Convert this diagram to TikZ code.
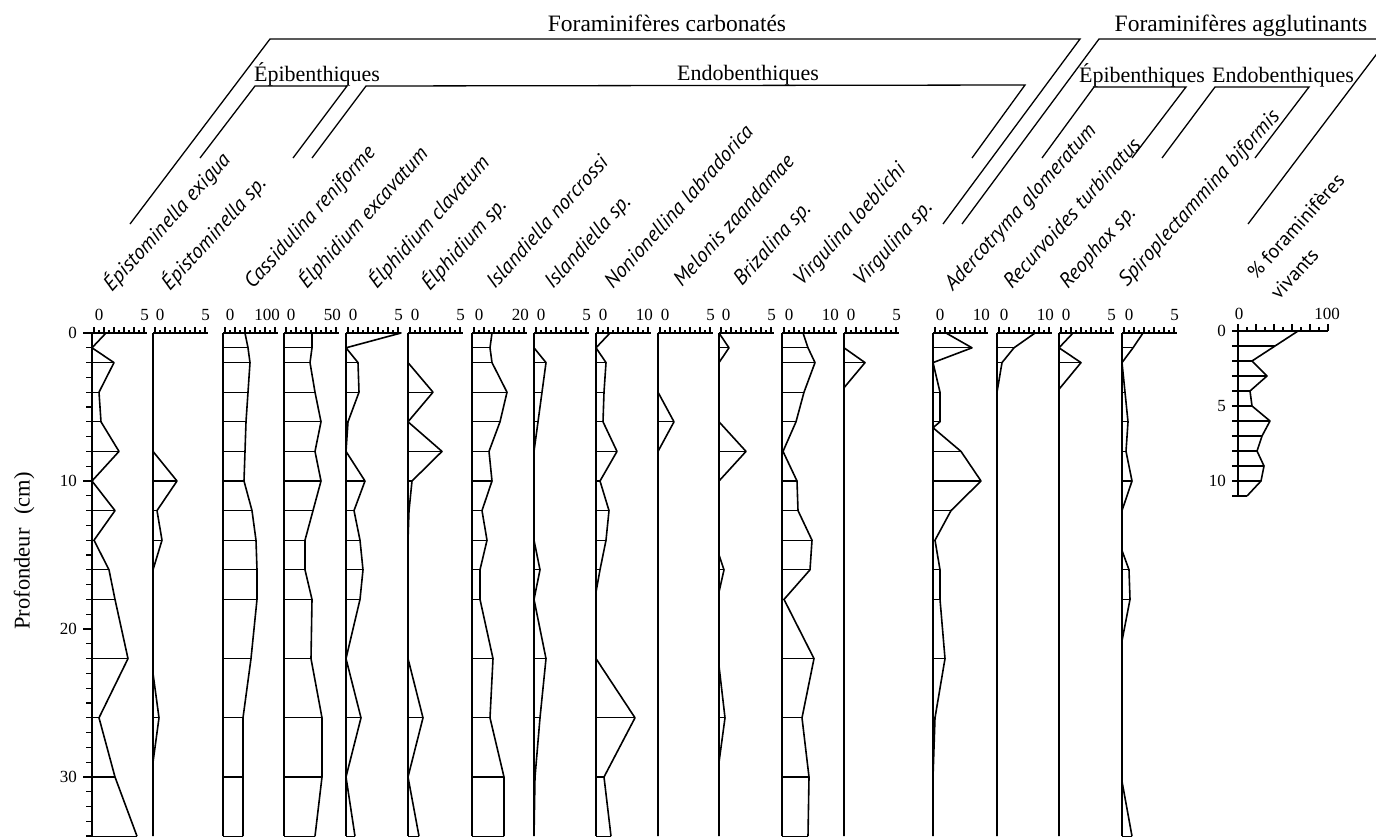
\documentclass[tikz,border=0pt]{standalone}
\usepackage{fontspec}
\setmainfont{Liberation Serif}
\newfontfamily\spfont{PT Sans}
\newcommand\drawprof[2]{%
  \draw[zl] (#1,333) -- (#1,836);
  \foreach \d/\v in {#2} {\draw[hl] (#1,{333+14.8*\d}) -- ++(\v,0);}
  \draw[cv] (#1,333) \foreach \d/\v in {#2} { -- ({#1+\v},{333+14.8*\d}) };
}
\newcommand\drawscale[2]{%
  \draw[ax] (#1,333) -- ++(55,0);
  \foreach \t in {2,12,...,52} {\draw[ax] ({#1+\t},333) -- ++(0,-6);}
  \foreach \t in {7,17,...,47} {\draw[ax] ({#1+\t},333) -- ++(0,-3.5);}
  \node[num] at ({#1+7},315) {0};
  \node[num,anchor=east] at ({#1+57},315) {#2};
}
\begin{document}
\begin{tikzpicture}[x=1pt,y=-1pt,
  cv/.style={line width=1.6pt,line join=round},
  hl/.style={line width=1.1pt},
  zl/.style={line width=1.5pt},
  ax/.style={line width=1.1pt},
  brk/.style={line width=1.3pt},
  sp/.style={font=\spfont\itshape\fontsize{21}{21}\selectfont,rotate=48,anchor=base west,inner sep=0pt},
  spu/.style={font=\spfont\fontsize{20}{20}\selectfont,rotate=48,anchor=base west,inner sep=0pt},
  hd/.style={font=\fontsize{23.5}{23.5}\selectfont,anchor=base,inner sep=0pt},
  sh/.style={font=\fontsize{22}{22}\selectfont,anchor=base,inner sep=0pt},
  num/.style={font=\fontsize{17}{17}\selectfont,inner sep=0pt}]
\useasboundingbox (0,0) rectangle (1376,838);
\clip (0,0) rectangle (1376,838);

% ---- header brackets
\draw[brk] (130,224) -- (270,39) -- (1080,39) -- (943,224);
\draw[brk] (962,224) -- (1099,39) -- (1388,39) -- (1248,224);
\draw[brk] (200,158) -- (255,86) -- (347,86) -- (293,158);
\draw[brk] (312,158) -- (366,86) -- (1025,85) -- (972,158);
\draw[brk] (1042,158) -- (1094,87) -- (1186,87) -- (1132,158);
\draw[brk] (1162,158) -- (1215,87) -- (1309,87) -- (1255,158);

\node[hd] (hcarb) at (667,31) {Foraminifères carbonatés};
\node[hd] (hagg) at (1241,31) {Foraminifères agglutinants};
\node[sh] (hepi1) at (317,81) {Épibenthiques};
\node[sh] (hendo1) at (748,80) {Endobenthiques};
\node[sh] (hepi2) at (1142,82) {Épibenthiques};
\node[sh] (hendo2) at (1283,82) {Endobenthiques};

% ---- species labels
\node[sp] (s1) at (112,293) {Épistominella exigua};
\node[sp] (s2) at (170,292) {Épistominella sp.};
\node[sp] (s3) at (253,290) {Cassidulina reniforme};
\node[sp] (s4) at (307,290) {Élphidium excavatum};
\node[sp] (s5) at (377,290) {Élphidium clavatum};
\node[sp] (s6) at (430,292) {Élphidium sp.};
\node[sp] (s7) at (495,290) {Islandiella norcrossi};
\node[sp] (s8) at (553,290) {Islandiella sp.};
\node[sp] (s9) at (613,290) {Nonionellina labradorica};
\node[sp] (s10) at (682,288) {Melonis zaandamae};
\node[sp] (s11) at (742,287) {Brizalina sp.};
\node[sp] (s12) at (802,287) {Virgulina loeblichi};
\node[sp] (s13) at (862,287) {Virgulina sp.};
\node[sp] (s14) at (953,292) {Adercotryma glomeratum};
\node[sp] (s15) at (1012,290) {Recurvoides turbinatus};
\node[sp] (s16) at (1068,290) {Reophax sp.};
\node[sp] (s17) at (1127,288) {Spiroplectammina biformis};
\node[spu] (s18a) at (1256,281) {\% foraminifères};
\node[spu] (s18b) at (1279,301) {vivants};

% ---- depth axis
\node[font=\fontsize{22.5}{22.5}\selectfont,rotate=90,inner sep=0pt] (ylab) at (24,551) {Profondeur\hspace{0.6em}(cm)};
\draw[ax] (85,333) -- (92,333);
\foreach \d in {0,...,34} {\draw[ax] (86,{333+14.8*\d}) -- (92,{333+14.8*\d});}
\foreach \d in {0,10,20,30} {\draw[ax] (83,{333+14.8*\d}) -- (92,{333+14.8*\d});
  \node[num,anchor=east] (dl\d) at (77,{333+14.8*\d}) {\d};}
\draw[hl] (86,836) -- (92,836);

% ---- scales
\drawscale{92}{5}
\drawscale{153}{5}
\drawscale{223}{100}
\drawscale{284}{50}
\drawscale{346}{5}
\drawscale{408}{5}
\drawscale{472}{20}
\drawscale{534}{5}
\drawscale{596}{10}
\drawscale{658}{5}
\drawscale{719}{5}
\drawscale{782}{10}
\drawscale{844}{5}
\drawscale{933}{10}
\drawscale{997}{10}
\drawscale{1059}{5}
\drawscale{1122}{5}

% ---- profiles
\drawprof{92}{0/14,1/0,2/22,4/7,6/9,8/27,10/0,12/23,14/2,16/17,18/23,22/36,26/7,30/23,34/45}
\drawprof{153}{0/0,8/0,10/24,12/4,14/9,16/0,23/0,26/6,29/0,34/0}
\drawprof{223}{0/22,1/25,2/27,4/25,6/23,8/22,10/21,12/29,14/33,16/34,18/34,22/28,26/20,30/20,34/20}
\drawprof{284}{0/28,1/28,2/26,4/31,6/37,8/31,10/37,12/29,14/21,16/21,18/28,22/27,26/38,30/38,34/31}
\drawprof{346}{0/55,1/0,2/12,4/13,6/2,8/0,10/19,12/8,14/14,16/17,18/14,22/0,26/15,30/0,34/9}
\drawprof{408}{0/0,2/0,4/25,6/0,8/34,10/4,12/1,14/0,22/0,26/15,30/0,34/11}
\drawprof{472}{0/20,1/18,2/20,4/35,6/28,8/17,10/20,12/10,14/15,16/8,18/8,22/21,26/18,30/32,34/32}
\drawprof{534}{0/0,1/0,2/12,4/8,6/4,8/0,14/0,16/6,18/0,22/12,26/6,30/1,34/0}
\drawprof{596}{0/14,1/0,2/10,4/8,6/7,8/21,10/4,12/13,14/10,16/4,17.5/0,22/0,26/39,30/8,34/15}
\drawprof{658}{0/0,4/0,6/16,8/0,34/0}
\drawprof{719}{0/0,1/10,2/0,6/0,8/27,10/0,15/0,16/5,17.5/0,22.5/0,26/6,29/0,34/0}
\drawprof{782}{0/21,1/26,2/33,4/22,6/14,8/1,10/15,12/16,14/30,16/28,18/2,22/32,26/20,30/27,34/26}
\drawprof{844}{0/0,1/0,2/21,3.7/0,34/0}
\drawprof{933}{0/13,1/39,2/0,4/7,6/7,6.4/0,8/28,10/48,12/18,14/2,16/7,18/7,22/12,26/2,30/0,34/0}
\drawprof{997}{0/38,1/17,2/5,4/0,34/0}
\drawprof{1059}{0/14,1/0,2/22,3.8/0,34/0}
\drawprof{1122}{0/21,1/11,2/0,4/3,6/6,8/4,10/10,12/0,14.7/0,16/7,18/8,20.8/0,30.3/0,34/10}

% ---- % living forams
\draw[zl] (1238,324) -- (1238,497);
\draw[ax] (1235,331) -- (1328,331);
\foreach \k in {2,4,...,10} {\draw[ax] ({1238+9*\k},331) -- ++(0,-7);}
\foreach \k in {1,3,...,9} {\draw[ax] ({1238+9*\k},331) -- ++(0,-4);}
\node[num] (p0) at (1239,314) {0};
\node[num] (p100) at (1327,314) {100};
\foreach \d in {0,...,11} {\draw[ax] (1232,{331+15*\d}) -- (1238,{331+15*\d});}
\node[num,anchor=east] (pd0) at (1226,331) {0};
\node[num,anchor=east] (pd5) at (1226,406) {5};
\node[num,anchor=east] (pd10) at (1226,481) {10};
\foreach \d/\v in {1/37,2/14,3/29,4/12,5/14,6/32,7/24,8/19,9/26,10/23,11/9}
  {\draw[hl] (1232,{331+15*\d}) -- ({1238+\v},{331+15*\d});}
\draw[cv] (1238,331) \foreach \d/\v in {0/60,1/37,2/14,3/29,4/12,5/14,6/32,7/24,8/19,9/26,10/23,11/9} { -- ({1238+\v},{331+15*\d}) };
\end{tikzpicture}
\end{document}
